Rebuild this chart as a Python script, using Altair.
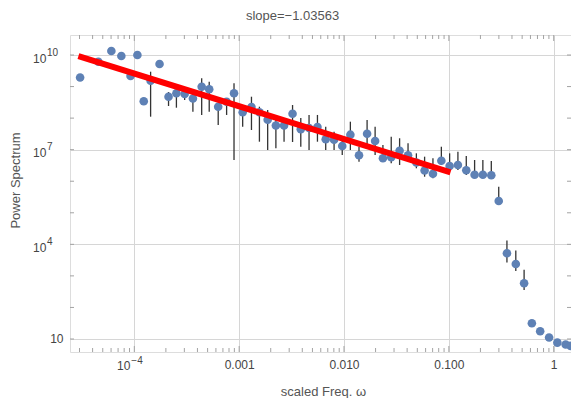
import altair as alt
import pandas as pd

# ---------------- data ----------------
freq = [3.04e-5, 4.54e-5, 6.04e-5, 7.52e-5, 9.2e-5, 1.07e-4, 1.23e-4, 1.43e-4,
        1.74e-4, 2.12e-4, 2.52e-4, 3.02e-4, 3.62e-4, 4.39e-4, 5.18e-4, 6.31e-4,
        7.59e-4, 8.93e-4, 1.08e-3, 1.31e-3, 1.56e-3, 1.87e-3, 2.24e-3, 2.68e-3,
        3.23e-3, 3.87e-3, 4.64e-3, 5.58e-3, 6.69e-3, 8.04e-3, 9.62e-3, 1.15e-2,
        1.39e-2, 1.66e-2, 1.98e-2, 2.35e-2, 2.82e-2, 3.39e-2, 4.08e-2, 4.90e-2,
        5.87e-2, 7.05e-2, 8.48e-2, 0.1017, 0.122, 0.1466, 0.176, 0.211, 0.254,
        0.299, 0.358, 0.435, 0.522, 0.619, 0.743, 0.904, 1.084, 1.30, 1.45]

power = [1.94e9, 6.14e9, 1.34e10, 9.3e9, 2.16e9, 1.0e10, 3.41e8, 1.53e9, 5.19e9, 4.77e8,
         6.11e8, 5.81e8, 4.19e8, 9.9e8, 8.19e8, 2.30e8, 3.31e8, 6.11e8, 1.53e8, 2.25e8,
         1.53e8, 8.91e7, 5.83e7, 5.83e7, 1.38e8, 4.42e7, 4.86e7, 5.23e7, 2.13e7, 2.07e7,
         1.31e7, 2.99e7, 6.64e6, 3.21e7, 1.88e7, 5.33e6, 5.74e6, 9.29e6, 6.64e6, 3.93e6,
         2.19e6, 1.73e6, 4.45e6, 3.04e6, 3.27e6, 2.22e6, 1.61e6, 1.61e6, 1.54e6, 2.37e5,
         5.21e3, 2.39e3, 583, 31.5, 17.6, 11.2, 7.66, 6.71, 6.03]

err_hi = [None, None, None, None, None, None, None, 2.96e9, None, 6.73e8,
          9.0e8, 7.78e8, 6.11e8, 1.83e9, 1.43e9, 2.95e8, 4.25e8, 1.27e9, 2.30e8, 4.77e8,
          2.30e8, 1.81e8, 8.71e7, 8.71e7, 2.6e8, 1.01e8, 1.26e8, 1.26e8, 5.35e7, 3.71e7,
          2.58e7, 7.71e7, 1.24e7, 8.71e7, 5.35e7, 1.41e7, 2.58e7, 2.30e7, 1.59e7, 7.67e6,
          6.0e6, 5.33e6, 1.24e7, 7.67e6, 8.63e6, 6.31e6, 4.71e6, 4.71e6, 4.38e6, 6.71e5,
          1.32e4, 6.38e3, 1.57e3, None, None, None, None, None, None]

err_lo = [None, None, None, None, None, None, None, 1.11e8, None, 2.42e8,
          2.14e8, 3.75e8, 1.60e8, 1.26e8, 1.60e8, 6.05e7, 1.26e8, 4.71e6, 5.35e7, 4.2e7,
          1.79e7, 9.77e6, 1.11e7, 1.79e7, 1.75e7, 1.24e7, 9.77e6, 1.79e7, 9.77e6, 9.77e6,
          6.78e6, 9.77e6, 4.16e6, 1.24e7, 6.78e6, 4.16e6, 3.70e6, 3.27e6, 4.16e6, 2.57e6,
          1.39e6, 1.24e6, 3.27e6, 2.27e6, 2.27e6, 1.58e6, 1.27e6, 1.27e6, 1.27e6, 2.04e5,
          2.66e3, 1.43e3, 358, None, None, None, None, None, None]

fit_freq = [2.93e-5, 0.1037]
fit_power = [9.29e9, 1.92e6]

x_tick_values = [1e-4, 1e-3, 1e-2, 1e-1, 1]
x_tick_labels = ["", "0.001", "0.010", "0.100", "1"]
y_tick_values = [10, 1e4, 1e7, 1e10]
y_tick_labels = ["10", "", "", ""]
# power-of-ten labels drawn as base + exponent
x_pow_values = [1e-4]
x_pow_exps = ["−4"]
y_pow_values = [1e4, 1e7, 1e10]
y_pow_exps = ["4", "7", "10"]

x_domain = [2.435e-5, 1.462]
y_domain = [3.87, 4.31e10]
title_text = ["slope=−1.03563"]
x_title = "scaled Freq. ω"
y_title = "Power Spectrum"

# ---------------- layout / style ----------------
W, H = 501, 317
FONT = "Liberation Sans"
FRAME = "#a3a3a3"
GRID = "#d6d6d6"
POINT = "#5E81B5"
LABEL = "#444444"
TITLE = "#555555"


def label_expr(values, labels):
    parts = []
    for i in range(len(values) - 1):
        t = (values[i] * values[i + 1]) ** 0.5
        parts.append(f"datum.value < {t:.6g} ? '{labels[i]}' : ")
    return "".join(parts) + f"'{labels[-1]}'"


pts = pd.DataFrame({"freq": freq, "power": power})
err = pd.DataFrame({"freq": freq, "lo": err_lo, "hi": err_hi}).dropna()
fit = pd.DataFrame({"freq": fit_freq, "power": fit_power})
xpow = pd.DataFrame({"v": x_pow_values, "base": "10", "exp": x_pow_exps})
ypow = pd.DataFrame({"v": y_pow_values, "base": "10", "exp": y_pow_exps})
ttl = pd.DataFrame({"t": title_text})

x_minor = [m * 10.0 ** k for k in range(-5, 1) for m in range(2, 10)]
x_minor = [v for v in x_minor if x_domain[0] <= v <= x_domain[1]]
y_dec = [10.0 ** k for k in range(1, 11)]
xmin_df = pd.DataFrame({"v": x_minor})
xmaj_df = pd.DataFrame({"v": x_tick_values})
ydec_df = pd.DataFrame({"v": y_dec})

xs = alt.Scale(type="log", domain=x_domain, nice=False)
ys = alt.Scale(type="log", domain=y_domain, nice=False)

x_axis = alt.Axis(orient="bottom", values=x_tick_values,
                  labelExpr=label_expr(x_tick_values, x_tick_labels),
                  title=x_title, grid=True, gridColor=GRID, gridWidth=1, tickSize=0,
                  domain=False, labelFont=FONT, labelFontSize=12, labelColor=LABEL,
                  labelPadding=7, titleFont=FONT, titleFontSize=13, titleColor=TITLE,
                  titleFontWeight="normal", titleX=253, titleY=43,
                  titleBaseline="alphabetic", titleAlign="center")
y_axis = alt.Axis(orient="left", values=y_tick_values,
                  labelExpr=label_expr(y_tick_values, y_tick_labels),
                  title=y_title, grid=True, gridColor=GRID, gridWidth=1, tickSize=0,
                  domain=False, labelFont=FONT, labelFontSize=12, labelColor=LABEL,
                  labelPadding=7, titleFont=FONT, titleFontSize=13, titleColor=TITLE,
                  titleFontWeight="normal", titleX=-55, titleY=145, titleAngle=270,
                  titleBaseline="middle", titleAlign="center")

points = alt.Chart(pts).mark_circle(size=74, color=POINT, opacity=1).encode(
    x=alt.X("freq:Q", scale=xs, axis=x_axis),
    y=alt.Y("power:Q", scale=ys, axis=y_axis),
)

bars = alt.Chart(err).mark_rule(color="#333333", strokeWidth=1.3).encode(
    x=alt.X("freq:Q", scale=xs, axis=None),
    y=alt.Y("lo:Q", scale=ys, axis=None),
    y2="hi:Q",
)

line = alt.Chart(fit).mark_line(color="#ff0000", strokeWidth=6).encode(
    x=alt.X("freq:Q", scale=xs, axis=None),
    y=alt.Y("power:Q", scale=ys, axis=None),
)


def xticks(df, length):
    b = alt.Chart(df).mark_rule(color=FRAME, strokeWidth=1).encode(
        x=alt.X("v:Q", scale=xs, axis=None), y=alt.value(H), y2=alt.value(H - length))
    t = alt.Chart(df).mark_rule(color=FRAME, strokeWidth=1).encode(
        x=alt.X("v:Q", scale=xs, axis=None), y=alt.value(0), y2=alt.value(length))
    return [b, t]


def yticks(df, length):
    l = alt.Chart(df).mark_rule(color=FRAME, strokeWidth=1).encode(
        y=alt.Y("v:Q", scale=ys, axis=None), x=alt.value(0), x2=alt.value(length))
    r = alt.Chart(df).mark_rule(color=FRAME, strokeWidth=1).encode(
        y=alt.Y("v:Q", scale=ys, axis=None), x=alt.value(W), x2=alt.value(W - length))
    return [l, r]


xbase = alt.Chart(xpow).mark_text(align="right", baseline="middle", dx=-4, font=FONT,
                                  fontSize=12, color=LABEL).encode(
    x=alt.X("v:Q", scale=xs, axis=None), y=alt.value(H + 13.5), text="base:N")
xexp = alt.Chart(xpow).mark_text(align="left", baseline="middle", dx=-3, font=FONT,
                                 fontSize=10, color=LABEL).encode(
    x=alt.X("v:Q", scale=xs, axis=None), y=alt.value(H + 8.5), text="exp:N")
ybase = alt.Chart(ypow).mark_text(align="left", baseline="middle", dy=3.5, font=FONT,
                                  fontSize=12, color=LABEL).encode(
    y=alt.Y("v:Q", scale=ys, axis=None), x=alt.value(-37), text="base:N")
yexp = alt.Chart(ypow).mark_text(align="left", baseline="middle", dy=-2.5, font=FONT,
                                 fontSize=10, color=LABEL).encode(
    y=alt.Y("v:Q", scale=ys, axis=None), x=alt.value(-23), text="exp:N")
title = alt.Chart(ttl).mark_text(align="center", baseline="middle", font=FONT,
                                 fontSize=13, color=TITLE).encode(
    x=alt.value(222.5), y=alt.value(-19.5), text="t:N")

layers = (xticks(xmin_df, 4) + xticks(xmaj_df, 6) + yticks(ydec_df, 4)
          + [bars, points, line, xbase, xexp, ybase, yexp, title])

chart = alt.layer(*layers).resolve_axis(x="independent", y="independent").properties(
    width=W, height=H,
    autosize="none",
    padding={"left": 62, "top": 27, "right": 0, "bottom": 46},
).configure_view(stroke=FRAME, strokeWidth=1).configure(background="white")

chart.save("out.html", embed_options={"renderer": "svg", "actions": False})
